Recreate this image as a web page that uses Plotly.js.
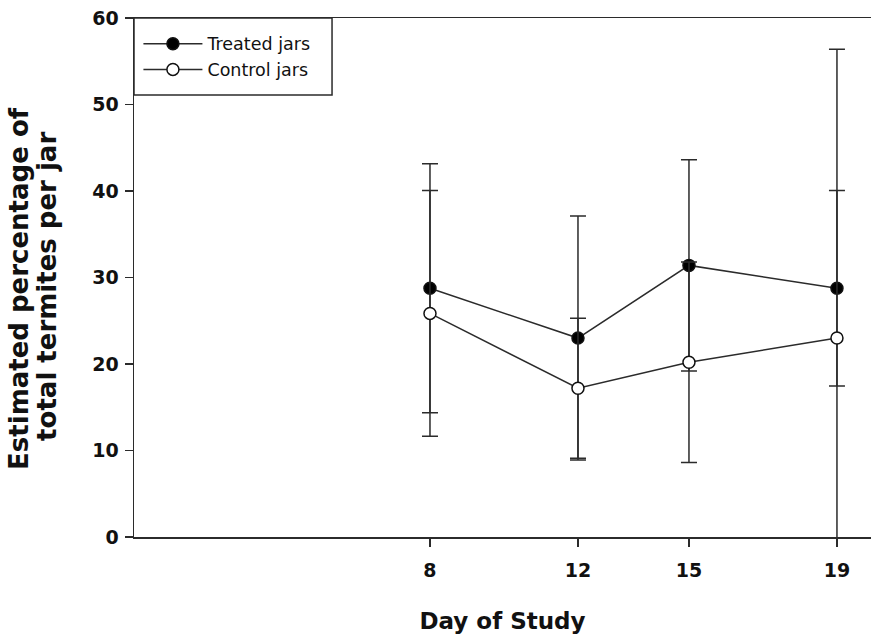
<!DOCTYPE html>
<html>
<head>
<meta charset="utf-8">
<script src="https://cdn.plot.ly/plotly-3.0.1.min.js"></script>
<style>html,body{margin:0;padding:0;background:#fff;}#chart{width:871px;height:637px;}</style>
</head>
<body>
<div id="chart"></div>
<script>
// Data
var days = [8, 12, 15, 19];
var treatedMean = [28.75, 23.0, 31.4, 28.75];
var treatedErr  = [14.4, 14.1, 12.2, 11.3];
var controlMean = [25.85, 17.2, 20.2, 23.0];
var controlErr  = [14.2, 8.1, 11.6, 33.4];
var xTickVals = [8, 12, 15, 19];
var xTickText = ['8', '12', '15', '19'];
var seriesNames = ['Treated jars', 'Control jars'];
var yTitleLines = ['Estimated percentage of', 'total termites per jar'];
var xTitle = 'Day of Study';

var FONT = '"DejaVu Sans", Verdana, sans-serif';
var INK = '#2b2b2b';

var treated = {
  x: days, y: treatedMean, name: seriesNames[0], type: 'scatter', mode: 'lines+markers',
  line: {color: INK, width: 1.5},
  marker: {symbol: 'circle', size: 12, color: '#000', line: {color: '#111', width: 1.5}},
  error_y: {type: 'data', array: treatedErr, visible: true, color: INK, thickness: 1.5, width: 8}
};
var control = {
  x: days, y: controlMean, name: seriesNames[1], type: 'scatter', mode: 'lines+markers',
  line: {color: INK, width: 1.5},
  marker: {symbol: 'circle', size: 12, color: '#fff', line: {color: '#111', width: 1.5}},
  error_y: {type: 'data', array: controlErr, visible: true, color: INK, thickness: 1.5, width: 8}
};

var layout = {
  width: 871, height: 637,
  margin: {l: 134, r: 0, t: 18, b: 100, pad: 0},
  paper_bgcolor: '#fff', plot_bgcolor: '#fff',
  font: {family: FONT, color: '#111'},
  showlegend: true,
  legend: {
    x: 0.006, y: 0.985, xanchor: 'left', yanchor: 'top',
    bgcolor: 'rgba(0,0,0,0)', borderwidth: 0,
    font: {family: FONT, size: 17.5, color: '#111'},
    itemwidth: 59
  },
  xaxis: {
    range: [0, 19.92], tickmode: 'array', tickvals: xTickVals, ticktext: xTickText,
    showgrid: false, zeroline: false, showline: true, mirror: true,
    linecolor: INK, linewidth: 1.5,
    ticks: 'outside', ticklen: 8, tickwidth: 1.5, tickcolor: INK,
    tickfont: {family: FONT, size: 19, color: '#111', weight: 'bold'},
    ticklabelstandoff: 8,
    title: {text: xTitle, font: {family: FONT, size: 23, color: '#111', weight: 'bold'}, standoff: 32}
  },
  yaxis: {
    range: [0, 60], dtick: 10, tick0: 0,
    showgrid: false, zeroline: false, showline: true,
    linecolor: INK, linewidth: 1.5,
    ticks: 'outside', ticklen: 8, tickwidth: 1.5, tickcolor: INK,
    tickfont: {family: FONT, size: 19, color: '#111', weight: 'bold'},
    ticklabelstandoff: 2
  },
  shapes: [{
    type: 'rect', xref: 'paper', yref: 'paper',
    x0: 0, x1: 0.2687, y0: 0.8516, y1: 1,
    line: {color: INK, width: 1.5}, fillcolor: 'rgba(0,0,0,0)', layer: 'above'
  }],
  annotations: [{
    text: yTitleLines[0],
    xref: 'paper', yref: 'paper', x: -0.156, y: 0.478,
    xanchor: 'center', yanchor: 'middle', textangle: -90, showarrow: false,
    font: {family: FONT, size: 26, color: '#111', weight: 'bold'}
  }, {
    text: yTitleLines[1],
    xref: 'paper', yref: 'paper', x: -0.118, y: 0.482,
    xanchor: 'center', yanchor: 'middle', textangle: -90, showarrow: false,
    font: {family: FONT, size: 26, color: '#111', weight: 'bold'}
  }]
};

Plotly.newPlot('chart', [treated, control], layout, {displayModeBar: false, staticPlot: true});
</script>
</body>
</html>
